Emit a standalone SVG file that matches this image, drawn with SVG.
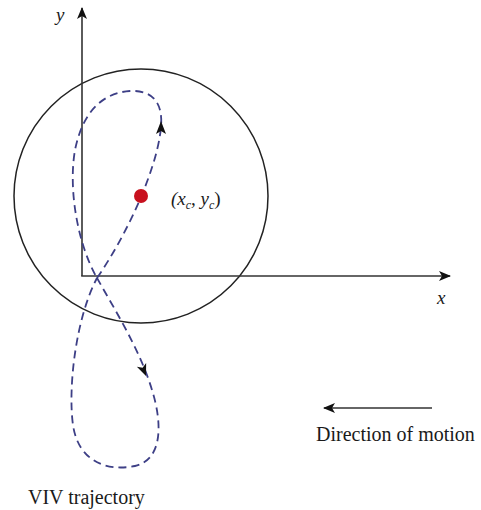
<svg xmlns="http://www.w3.org/2000/svg" width="481" height="510" viewBox="0 0 481 510">
<style>
.ax{stroke:#333;stroke-width:1.6;fill:none}
.traj{stroke:#3d3f86;stroke-width:1.8;fill:none;stroke-dasharray:8 5}
.lbl{font-family:"Liberation Serif","DejaVu Serif","Times New Roman",serif;fill:#1a1a1a}
.it{font-style:italic}
</style>
<defs>
<marker id="ah" markerWidth="12" markerHeight="10" refX="11" refY="5" orient="auto" markerUnits="userSpaceOnUse">
<path d="M0,0 L12,5 L0,10 L3,5 Z" fill="#111"/>
</marker>
</defs>
<rect width="481" height="510" fill="#fff"/>
<g id="cylinder">
<circle cx="141" cy="196" r="127" fill="none" stroke="#222" stroke-width="1.5"/>
</g>
<g id="axes">
<line class="ax" x1="82" y1="276" x2="82" y2="8" marker-end="url(#ah)"/>
<line class="ax" x1="81.2" y1="276" x2="450" y2="276" marker-end="url(#ah)"/>
<text class="lbl it" x="56" y="21" font-size="19">y</text>
<text class="lbl it" x="437" y="304" font-size="19">x</text>
</g>
<g id="connectors">
<path class="traj" d="M97 278 C130 230,155 170,160 135 C166 100,150 90,130 91 C100 93,82 115,75 150 C68 190,78 245,97 278"/>
<path class="traj" d="M97 278 C115 310,140 350,152 390 C163 425,162 460,135 466 C105 472,78 460,73 425 C68 390,75 320,97 278"/>
<path d="M161 121 L166 134 L161 131 L156 134 Z" fill="#111"/>
<g transform="translate(146,376) rotate(68)"><path d="M0 0 L-12 -5 L-9 0 L-12 5 Z" fill="#111"/></g>
<line class="ax" x1="432" y1="408" x2="324" y2="408" marker-end="url(#ah)"/>
</g>
<g id="center">
<circle cx="141" cy="196" r="7" fill="#c8101e"/>
<text class="lbl it" x="171" y="205" font-size="19">(x<tspan font-size="12" dy="4">c</tspan><tspan dy="-4">, y</tspan><tspan font-size="12" dy="4">c</tspan><tspan dy="-4" font-style="normal">)</tspan></text>
</g>
<g id="labels">
<text class="lbl" x="316" y="441" font-size="20">Direction of motion</text>
<text class="lbl" x="28" y="504" font-size="20">VIV trajectory</text>
</g>
</svg>
